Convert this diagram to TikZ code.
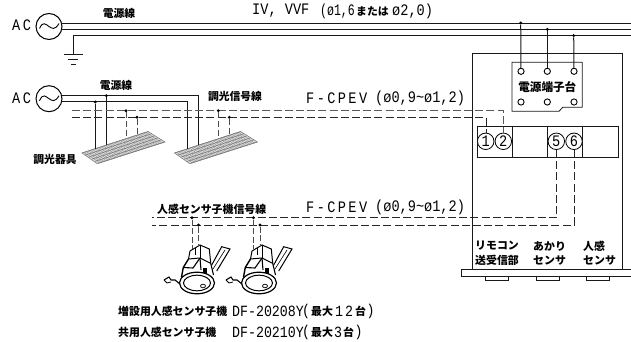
\documentclass[tikz,border=0pt]{standalone}
\usepackage{fontspec}
\setmainfont{Noto Sans CJK JP}
\newfontfamily\jpf{Noto Sans CJK JP}
\newfontfamily\latn[FakeStretch=.85]{Liberation Mono}
\newfontfamily\latc[FakeStretch=.72]{Liberation Mono}
\newfontfamily\latw[FakeStretch=.85,LetterSpace=15]{Liberation Mono}
\usetikzlibrary{calc}
\tikzset{
 x=1pt,y=-1pt,
 wire/.style={line width=1pt,black!90},
 dwire/.style={line width=0.8pt,black!85,dash pattern=on 8pt off 3.2pt},
 thin box/.style={line width=0.8pt,black!90},
 jdot/.style={circle,fill=black,inner sep=0pt,minimum size=3.2pt},
 acsrc/.style={circle,draw,line width=1pt,minimum size=26pt,inner sep=0pt},
 term/.style={circle,draw,line width=0.9pt,minimum size=6.2pt,inner sep=0pt},
 numc/.style={circle,draw,line width=0.8pt,minimum size=16.5pt,inner sep=0pt,font=\latn\fontsize{16}{16}\selectfont},
 jt/.style={inner sep=0pt,font=\jpf\bfseries\fontsize{10.8}{12}\selectfont},
 lt/.style={inner sep=0pt,font=\latn\fontsize{16}{16}\selectfont},
 ltw/.style={inner sep=0pt,font=\latw\fontsize{16}{16}\selectfont},
 ltc/.style={inner sep=0pt,font=\latc\fontsize{16}{16}\selectfont},
 small/.style={inner sep=0pt,font=\jpf\bfseries\fontsize{10.9}{12}\selectfont},
 sm/.style={inner sep=0pt,font=\latn\fontsize{15.6}{16}\selectfont},
 lamp/.pic={
  \fill[black!14] (0,0)--(66,-21.5)--(83,-11)--(15,10.5)--cycle;
  \foreach \k in {1,...,30}{\draw[black!42,line width=.4pt] ($(0,0)+\k/31*(66,-21.5)$)--++(16,10.7);}
  \foreach \k in {0,.2,.4,.6,.8,1}{\draw[black!55,line width=.55pt] ($(0,0)+\k*(16,10.5)$)--++(66.5,-21.5);}
  \draw[black!50,line width=.6pt] (0,0)--(66,-21.5)--(83,-11)--(15,10.5)--cycle;
 },
 sensor/.pic={
  \draw[line width=1pt] (-7,-32)--(3,-38)--(12.3,-34)--(13.7,-19.7);
  \draw[line width=1pt] (-7,-32)--(-8.5,-24)--(3,-25)--(13.7,-19.7);
  \draw[line width=1pt] (3,-38)--(3,-25);
  \draw[line width=1pt] (-2,-35)--(-2,-28);
  \draw[line width=1.4pt] (-8.5,-24)--(-13.7,-15.5)--(-15.5,-6);
  \draw[line width=1.1pt] (-13.7,-15.5)--(-4,-15)--(3,-25);
  \draw[line width=1.1pt] (3,-25)--(4,-13);
  \draw[line width=1.1pt] (13.7,-19.7)--(16.5,-8);
  \fill (6,-15) rectangle (10,-9);
  \draw[line width=1pt] (14.7,-18)--(24.7,-36.3)--(33,-34)--(19.7,-12);
  \draw[line width=.6pt] (16,-14)--(28,-33);
  \fill[white] (0,0) ellipse (17.5 and 10.8);
  \draw[line width=1.2pt] (0,0) ellipse (17.5 and 10.8);
  \draw[line width=1pt] (0,0) ellipse (13.5 and 7.8);
  \draw[line width=.7pt] (6,3) ellipse (2.5 and 1.8);
  \draw[line width=1.1pt] (-33,-3)--(-28,-6)--(-26,-3)--(-22,-3)--(-17,1);
  \draw[line width=.8pt] (-33,-3)--(-30,0)--(-26,-1);
 }
}
\begin{document}
\begin{tikzpicture}
\useasboundingbox (0,0) rectangle (631,342);
\node[acsrc] (ac1) at (49,26.5) {};
\node[acsrc] (ac2) at (49,98.7) {};
\foreach \n in {ac1,ac2}{
 \draw[line width=.9pt] ($(\n)+(-9.5,2)$) .. controls ($(\n)+(-6,-6)$) and ($(\n)+(-3,-2)$) .. ($(\n)+(0,0)$) .. controls ($(\n)+(3,2)$) and ($(\n)+(6,4)$) .. ($(\n)+(10,-3)$);
}
\node[ltw,anchor=west] (acl1) at (12,25.5) {AC};
\node[ltw,anchor=west] (acl2) at (12,98) {AC};
\coordinate (e1) at (631,23.3);\coordinate (e2) at (631,29.7);\coordinate (e3) at (631,36);
\draw[wire] (ac1.center)+(12.3,-3.2)--(e1);
\draw[wire] (ac1.center)+(12.3,3.2)--(e2);
\coordinate (g0) at (73,36);\coordinate (g1) at (73,55);
\draw[wire] (e3)--(g0)--(g1);
\coordinate (g2) at (64,55);\coordinate (g3) at (83,55);
\draw[wire] (g2)--(g3);
\coordinate (g4) at (68,60);\coordinate (g5) at (78,60);
\draw[wire] (g4)--(g5);
\coordinate (g6) at (71,64.5);\coordinate (g7) at (76,64.5);
\draw[wire] (g6)--(g7);
\pic at (82,153) {lamp};
\pic at (174.5,153) {lamp};
\coordinate (a1) at (198.7,95.7);\coordinate (a2) at (198.7,145);
\coordinate (b1) at (187.7,102);\coordinate (b2) at (187.7,148.5);
\draw[wire] (ac2.center)+(12.6,-3)--(a1)--(a2);
\draw[wire] (ac2.center)+(12.6,3.3)--(b1)--(b2);
\node[jdot] (p1) at (106.3,95.7) {};
\node[jdot] (p2) at (95.3,102) {};
\coordinate (p1e) at (106.3,145);\coordinate (p2e) at (95.3,148.5);
\draw[wire] (p1)--(p1e);
\draw[wire] (p2)--(p2e);
\coordinate (s1) at (72,110.7);\coordinate (s1c) at (503.3,110.7);
\coordinate (s2) at (72,117.3);\coordinate (s2c) at (486,117.3);
\node[numc] (n1) at (485.7,141.3) {};
\node[numc] (n2) at (503.3,141.3) {};
\node[numc] (n5) at (556.3,141.3) {};
\node[numc] (n6) at (574,141.3) {};
\draw[dwire,black!65] (s1)--(s1c)--(503.3,133);
\draw[dwire] (s2)--(s2c)--(486,133);
\foreach \x/\y/\ey/\nm in {126/110.7/137/q1,137/117.3/134.7/q2,218.3/110.7/137/q3,229.3/117.3/134.7/q4}{
 \node[jdot] (\nm) at (\x,\y) {};
 \coordinate (\nm e) at (\x,\ey);
 \draw[dwire,dash pattern=on 6pt off 2.5pt,black!70] (\nm)--(\nm e);
}
\pic at (197,283) {sensor};
\pic at (259,283) {sensor};
\coordinate (t1) at (152,217.7);\coordinate (t2) at (152,225);
\coordinate (t1c) at (556.3,217.7);\coordinate (t2c) at (574,225);
\draw[dwire] (n5.south)--(t1c)--(t1);
\draw[dwire] (n6.south)--(t2c)--(t2);
\foreach \x/\y/\ey/\nm in {192/217.7/249/r1,198.5/225/246/r2,253.5/217.7/249/r3,260/225/246/r4}{
 \node[jdot] (\nm) at (\x,\y) {};
 \coordinate (\nm e) at (\x,\ey);
 \draw[dwire,dash pattern=on 6pt off 2.5pt,black!70] (\nm)--(\nm e);
}
\draw[thin box] (472.7,270)--(472.7,53.3)--(622.3,53.3)--(622.3,270);
\draw[thin box,fill=white] (631.5,269.5)--(461.7,269.5)--(461.7,276.7)--(631.5,276.7);
\foreach \x in {485,536,586.7}{\draw[thin box,fill=white] (\x,276.7) rectangle ++(23,3.6);}
\draw[thin box] (512,62.3)--(582.3,62.3)--(582.3,107.3)--(562.7,107.3)--(559,111.3)--(512,111.3)--cycle;
\foreach \x/\nm in {521/u1,547.3/u2,574/u3}{\node[term] (\nm) at (\x,71.3) {};}
\foreach \x/\nm in {521/v1,547.3/v2,574/v3}{\node[term] (\nm) at (\x,102) {};}
\node[jdot] (w1) at (520.7,23) {};
\node[jdot] (w2) at (547.3,29.4) {};
\node[jdot] (w3) at (573.7,35.6) {};
\draw[wire] (w1)--(u1);\draw[wire] (w2)--(u2);\draw[wire] (w3)--(u3);
\node[jt,font=\jpf\bfseries\fontsize{11.6}{12}\selectfont] (l1) at (547.3,87) {電源端子台};
\draw[thin box] (477,126) rectangle (618,157);
\foreach \x in {512,547.3,582.3}{\draw[thin box] (\x,126)--(\x,157);}
\node[numc,draw=none] (d1) at (n1) {1};
\node[numc,draw=none] (d2) at (n2) {2};
\node[numc,draw=none] (d5) at (n5) {5};
\node[numc,draw=none] (d6) at (n6) {6};
\node[jt] (l2) at (119,13) {電源線};
\node[jt] (l3) at (116,85) {電源線};
\node[jt] (l4) at (235,96.5) {調光信号線};
\node[jt] (l5) at (55,159.5) {調光器具};
\node[lt,anchor=west] (l6) at (252,11) {IV, VVF};
\node[ltc,anchor=west] (l7) at (320,11) {(ø1,6};
\node[jt,anchor=west] (l8) at (356,11) {または};
\node[lt,anchor=west] (l9) at (392,11) {ø2,0)};
\node[ltw,anchor=west] (l10) at (306,98) {F-CPEV};
\node[lt,anchor=west] (l11) at (375,98) {(ø0,9\char`\~ø1,2)};
\node[ltw,anchor=west] (l12) at (306,207) {F-CPEV};
\node[lt,anchor=west] (l13) at (375,207) {(ø0,9\char`\~ø1,2)};
\node[small,anchor=west] (l14) at (157,209) {人感センサ子機信号線};
\node[small,anchor=west] (l15) at (118,311) {増設用人感センサ子機};
\node[sm,anchor=west] (l16) at (232,311) {DF-20208Y};
\node[sm,anchor=west] (l17) at (302,311) {(};
\node[small,anchor=west] (l18) at (311,311) {最大};
\node[sm,anchor=west] (l19) at (335,311) {1};
\node[sm,anchor=west] (l20) at (345,311) {2};
\node[small,anchor=west] (l21) at (355,311) {台};
\node[sm,anchor=west] (l22) at (366.5,311) {)};
\node[small,anchor=west] (l23) at (118,332) {共用人感センサ子機};
\node[sm,anchor=west] (l24) at (232,332) {DF-20210Y};
\node[sm,anchor=west] (l25) at (302,332) {(};
\node[small,anchor=west] (l26) at (311,332) {最大};
\node[sm,anchor=west] (l27) at (334,332) {3};
\node[small,anchor=west] (l28) at (343,332) {台};
\node[sm,anchor=west] (l29) at (354.5,332) {)};
\node[small,anchor=west] (l30) at (475,246) {リモコン};
\node[small,anchor=west] (l31) at (475,260.5) {送受信部};
\node[small,anchor=west] (l32) at (533,246) {あかり};
\node[small,anchor=west] (l33) at (533,260.5) {センサ};
\node[small,anchor=west] (l34) at (583,246) {人感};
\node[small,anchor=west] (l35) at (583,260.5) {センサ};
\end{tikzpicture}
\end{document}
